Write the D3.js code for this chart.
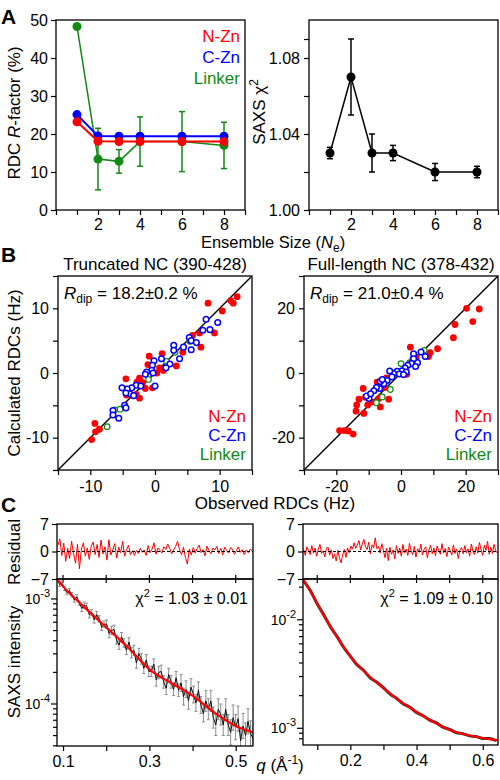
<!DOCTYPE html>
<html><head><meta charset="utf-8">
<script src="https://cdn.jsdelivr.net/npm/d3@7"></script>
<style>
body{margin:0;background:#fff}
svg{display:block;font-family:"Liberation Sans",Arial,Helvetica,sans-serif}
</style></head><body>
<svg id="fig" width="500" height="780"></svg>
<script>
// ---------- Panel A data ----------
const ensembleSize=[1,2,3,4,6,8];
const rdcRNZn=[23.2,18.1,18.0,18.0,18.0,18.0];
const rdcRCZn=[25.1,19.5,19.4,19.4,19.4,19.4];
const rdcRLinker=[48.3,13.4,12.8,18.0,18.0,17.0];
const rdcRLinkerErr=[0,8.1,3.1,6.5,7.9,6.1];
const saxsChi2=[1.030,1.070,1.030,1.030,1.020,1.020];
const saxsChi2Err=[0.003,0.020,0.010,0.004,0.0045,0.003];
const seriesNames=["N-Zn","C-Zn","Linker"];
const ensembleTicks=[0,1,2,3,4,5,6,7,8,9];
const ensembleLabels=[2,4,6,8];
const rTicks=[0,10,20,30,40,50];
const chiTicks=[1.00,1.02,1.04,1.06,1.08,1.09];
const chiLabels=[1.00,1.04,1.08];

// ---------- Panel B data [observed, calculated] ----------
const truncNZn=[[8.2,10.8],[10.4,9.6],[11.7,11.2],[12.1,10.8],[12.7,11.8],[9.2,6.2],[7.1,4.0],[6.9,6.2],[5.8,5.8],[4.3,3.2],[3.3,1.1],[1.1,3.0],[1.3,0.4],[0.3,0.0],[-0.9,2.6],[-1.1,1.3],[-0.4,-2.3],[-1.5,-2.4],[-2.4,-0.8],[-2.8,-1.4],[-4.5,-0.9],[-4.4,-3.4],[-2.4,-3.9],[-2.9,-3.3],[-9.2,-9.1],[-8.6,-8.7],[-9.3,-7.8],[-9.8,-10.3],[-1.9,-1.5],[0.7,0.8]];
const truncCZn=[[7.9,8.3],[9.7,7.8],[7.4,6.6],[8.5,6.7],[5.3,5.5],[5.6,5.0],[6.4,4.7],[5.6,3.6],[2.9,4.3],[2.9,3.5],[4.4,4.0],[3.8,2.2],[2.3,1.4],[1.7,0.8],[1.0,2.2],[-0.15,1.9],[-0.4,1.2],[-0.5,0.4],[-1.3,0.15],[-1.5,-0.2],[-0.3,0.0],[0.0,-2.0],[-2.9,-1.9],[-3.6,-2.3],[-4.3,-2.5],[-5.1,-2.3],[-3.9,-3.2],[-3.3,-3.5],[-4.5,-3.1],[-4.7,-5.0],[-4.5,-5.4],[-6.5,-5.8],[-6.5,-6.5],[-5.6,-7.0],[-2.2,-2.0]];
const truncLinker=[[-6.2,-5.7],[-7.4,-8.3],[-5.4,-5.6],[1.8,1.8],[3.1,3.2],[5.4,4.9],[-1.0,-1.0]];
const fullNZn=[[20.3,20],[24.2,19.8],[22.2,15.9],[16.7,15],[16.2,10.9],[11.3,7.5],[9.0,6.3],[8.5,5.1],[2.9,8.0],[4.7,4.9],[1.8,-0.4],[-4.5,-1.5],[-6.4,-2.8],[-7.4,-2.8],[-11.7,-4.8],[-13.0,-8.1],[-13.7,-9.9],[-13.9,-11.8],[-11.5,-12.5],[-10.3,-9.9],[-11.0,-7.5],[-6.9,-7.9],[-6.4,-10.5],[-3.8,-8.1],[-19.0,-17.8],[-17.5,-17.8],[-16.3,-17.9],[-14.8,-18.9],[-9.0,-9.0],[-5.0,-4.5]];
const fullCZn=[[6.2,6.5],[7.5,5.1],[3.9,5.9],[5.1,3.2],[3.9,4.4],[3.2,2.9],[2.1,2.4],[1.3,1.5],[0.3,0.7],[-1.2,0.5],[-2.3,-0.2],[-3.5,0.6],[-2.8,-1.2],[-4.3,-2.3],[-5.3,-3.3],[-6.4,-2.6],[-6.6,-4.8],[-7.6,-4.5],[-8.4,-5.5],[-9.9,-7.9],[-10.7,-7.1],[-9.4,-6.4],[1.6,0.3],[-0.5,-0.3],[-5.8,-2.0],[4.5,2.0],[0.8,-0.5]];
const fullLinker=[[0,2.9],[2.7,3.2],[7.2,7.0],[-3.3,-5.1],[-5.8,-7.4],[-7.6,-9.2],[3.6,4.2]];
const truncTicks=[-15,-10,-5,0,5,10,15], truncLabels=[-10,0,10];
const fullTicks=[-30,-20,-10,0,10,20,30], fullLabels=[-20,0,20];

// ---------- Panel C data ----------
const residLeft=[1.5,3.2,-1.0,2.1,-2.5,0.8,-1.8,2.6,-0.5,-3.0,1.9,-4.4,0.6,2.2,-1.2,0.9,-2.0,1.4,2.4,-0.8,
 1.8,-1.5,2.9,-0.6,1.2,-2.2,3.0,-0.9,0.4,2.0,-1.7,1.1,-0.3,2.6,-1.2,0.5,1.6,-0.8,0.2,-1.0,
 0.3,-0.5,0.8,-0.2,0.4,-1.0,1.5,-0.3,0.6,2.2,-0.7,0.9,0.3,-0.4,1.2,0.5,1.9,0.8,-0.6,0.4,
 1.3,2.6,0.5,-0.8,1.1,-1.5,-3.2,0.6,-0.9,1.0,-0.4,0.8,1.6,-0.3,0.5,-1.1,1.4,0.2,-0.6,0.9,
 0.4,1.3,-0.5,0.8,-0.9,1.1,0.2,-0.4,1.0,0.6,-0.7,0.3,1.2,-0.2,0.5,-0.8,0.4,-0.3,0.6,0.1];
const residLeftQRange=[0.088,0.538];
const residRight=[0.5,-1.0,1.2,0.3,-0.8,1.5,-0.4,0.9,-1.2,0.6,1.8,-0.5,0.2,-1.4,0.8,1.1,-0.9,0.4,-1.8,-0.6,
 -2.4,0.3,-1.6,-2.9,-0.8,0.5,-1.5,0.9,-0.3,1.4,0.6,2.2,0.8,1.6,2.8,0.4,1.9,3.1,1.2,0.5,
 2.4,-0.6,1.7,0.9,3.5,0.7,1.3,-0.4,2.0,0.3,-1.6,0.8,-2.3,1.1,-0.7,0.4,-1.9,1.5,-0.5,0.9,
 -1.2,1.8,-0.3,0.6,-1.0,2.1,0.2,-0.8,1.3,-1.4,0.7,-0.2,1.9,-0.9,0.5,1.2,-1.6,0.4,1.6,-0.6,
 0.9,-1.1,1.4,0.3,-0.7,2.0,-0.4,0.8,-1.3,1.1,0.2,-0.9,1.7,-0.5,0.6,-1.8,0.4,1.0,-0.6,1.5,
 -0.3,0.7,-1.2,1.9,0.1,-0.8,1.2,-0.4,2.3,0.5,-1.0,1.6,0.3,2.6,-0.7,1.1,-0.5,1.8,0.2,-0.4];
const residRightQRange=[0.059,0.644];
// left SAXS curve (log10 intensity)
const dataLeftQRange=[0.086,0.540];
const dataLeftLog=[-2.80,-2.86,-2.85,-2.90,-2.94,-2.92,-2.96,-3.01,-2.98,-3.04,-3.09,-3.06,-3.07,-3.15,-3.13,-3.20,-3.15,-3.19,-3.27,-3.24,
 -3.24,-3.33,-3.30,-3.29,-3.39,-3.44,-3.36,-3.42,-3.49,-3.41,-3.51,-3.49,-3.61,-3.52,-3.57,-3.66,-3.58,-3.69,-3.69,-3.62,
 -3.77,-3.70,-3.69,-3.79,-3.85,-3.72,-3.79,-3.86,-3.75,-3.87,
 -3.80,-3.93,-3.86,-3.97,-3.84,-3.91,-3.99,-3.87,-4.01,-4.09,-3.97,-4.05,-3.97,-4.13,-4.20,-4.05,-4.10,-4.20,-4.05,-4.20,
 -4.27,-4.13,-4.22,-4.14,-4.35,-4.21,-4.30,-4.165,-4.28,-4.33];
const errLeftLog=[0.02,0.03,0.04,0.05,0.06,0.08,0.10,0.12];
const fitLeftQ=[0.086,0.10,0.15,0.20,0.25,0.30,0.35,0.40,0.45,0.50,0.54];
const fitLeftLog=[-2.81,-2.88,-3.08,-3.27,-3.46,-3.67,-3.80,-3.92,-4.08,-4.21,-4.27];
// right SAXS curve
const dataRightQ=[0.06,0.08,0.10,0.12,0.14,0.16,0.18,0.20,0.22,0.24,0.26,0.28,0.30,0.32,0.34,0.36,0.38,0.40,0.42,0.44,0.46,0.48,0.50,0.52,0.54,0.56,0.58,0.60,0.62,0.64];
const dataRightLog=[-1.645,-1.735,-1.855,-1.955,-2.065,-2.155,-2.255,-2.335,-2.415,-2.465,-2.535,-2.575,-2.625,-2.685,-2.725,-2.775,-2.805,-2.855,-2.885,-2.925,-2.95,-2.99,-3.01,-3.04,-3.05,-3.07,-3.075,-3.095,-3.095,-3.115];
const errRightLog=0.012;
const fitRightQ=[0.057,0.08,0.10,0.125,0.15,0.175,0.20,0.25,0.30,0.35,0.40,0.45,0.50,0.55,0.60,0.646];
const fitRightLog=[-1.624,-1.74,-1.85,-1.99,-2.11,-2.23,-2.34,-2.50,-2.63,-2.75,-2.85,-2.94,-3.015,-3.06,-3.09,-3.11];
const qTicksLeft=[0.1,0.2,0.3,0.4,0.5], qLabelsLeft=[0.1,0.3,0.5];
const qTicksRight=[0.1,0.2,0.3,0.4,0.5,0.6], qLabelsRight=[0.2,0.4,0.6];
const residTicks=[-7,0,7];

// ---------- drawing ----------
const svg=d3.select("#fig");
const FT=16, FL=17;
const RED="#ff0000", BLUE="#0000ff", GREEN="#138a13", GREY="#8c8c8c";
const defs=svg.append("defs");
let clipId=0;
function clip(x,y){const id="c"+(clipId++);defs.append("clipPath").attr("id",id).append("rect")
 .attr("x",x.range()[0]).attr("y",y.range()[1]).attr("width",x.range()[1]-x.range()[0]).attr("height",y.range()[0]-y.range()[1]);return "url(#"+id+")";}
function box(x,y){svg.append("rect").attr("x",x.range()[0]).attr("y",y.range()[1])
 .attr("width",x.range()[1]-x.range()[0]).attr("height",y.range()[0]-y.range()[1])
 .attr("fill","none").attr("stroke","#000").attr("stroke-width",1.3);}
function fix(g){g.attr("font-family",null).attr("font-size",FT);g.select(".domain").remove();
 g.selectAll(".tick line").attr("stroke","#000").attr("stroke-width",1.2);g.selectAll(".tick text").attr("fill","#000");return g;}
function txt(x,y,size,anchor){return svg.append("text").attr("x",x).attr("y",y).attr("font-size",size).attr("text-anchor",anchor||"start").attr("fill","#000");}
function vtxt(x,y,size){return svg.append("text").attr("transform",`translate(${x},${y}) rotate(-90)`).attr("font-size",size).attr("text-anchor","middle").attr("fill","#000");}
function errbars(g,data,x,y,col,w,cap){
 data.forEach(d=>{if(!d.e)return;const X=x(d.x),y1=y(d.y-d.e),y2=y(d.y+d.e);
  g.append("line").attr("x1",X).attr("x2",X).attr("y1",y1).attr("y2",y2).attr("stroke",col).attr("stroke-width",w);
  [y1,y2].forEach(Y=>g.append("line").attr("x1",X-cap).attr("x2",X+cap).attr("y1",Y).attr("y2",Y).attr("stroke",col).attr("stroke-width",w));});}

// panel letters
txt(1,24,21).attr("font-weight","bold").text("A");
txt(1,262,21).attr("font-weight","bold").text("B");
txt(1,512,21).attr("font-weight","bold").text("C");

// ===== A left =====
const xA1=d3.scaleLinear().domain([0,9]).range([56,245]);
const yA1=d3.scaleLinear().domain([0,50]).range([210,20]);
fix(svg.append("g").attr("transform","translate(0,210)").call(d3.axisBottom(xA1).tickValues(ensembleTicks).tickSize(5).tickPadding(4).tickFormat(d=>ensembleLabels.includes(d)?d:"")));
fix(svg.append("g").attr("transform","translate(56,0)").call(d3.axisLeft(yA1).tickValues(rTicks).tickSize(5).tickPadding(3)));
box(xA1,yA1);
const gA1=svg.append("g");
const series=[{v:rdcRLinker,e:rdcRLinkerErr,c:GREEN,w:1.5},{v:rdcRCZn,c:BLUE,w:2},{v:rdcRNZn,c:RED,w:2}];
series.forEach(s=>{
 const pts=ensembleSize.map((n,i)=>({x:n,y:s.v[i],e:s.e?s.e[i]:0}));
 if(s.e)errbars(gA1,pts,xA1,yA1,s.c,1.5,3);
 gA1.append("path").datum(pts).attr("fill","none").attr("stroke",s.c).attr("stroke-width",s.w)
  .attr("d",d3.line().x(d=>xA1(d.x)).y(d=>yA1(d.y)));
 gA1.selectAll(null).data(pts).enter().append("circle").attr("cx",d=>xA1(d.x)).attr("cy",d=>yA1(d.y)).attr("r",4.5).attr("fill",s.c);
});
[[seriesNames[0],RED,42],[seriesNames[1],BLUE,63],[seriesNames[2],GREEN,84]].forEach(l=>txt(240,l[2],FL,"end").attr("fill",l[1]).text(l[0]));
{const t=vtxt(20,113,FL);t.append("tspan").text("RDC ");t.append("tspan").attr("font-style","italic").text("R");t.append("tspan").text("-factor (%)");}

// ===== A right =====
const xA2=d3.scaleLinear().domain([0,9]).range([309,498]);
const yA2=d3.scaleLinear().domain([1.00,1.10]).range([210,20]);
fix(svg.append("g").attr("transform","translate(0,210)").call(d3.axisBottom(xA2).tickValues(ensembleTicks).tickSize(5).tickPadding(4).tickFormat(d=>ensembleLabels.includes(d)?d:"")));
fix(svg.append("g").attr("transform","translate(309,0)").call(d3.axisLeft(yA2).tickValues(chiTicks).tickSize(5).tickPadding(4).tickFormat(d=>chiLabels.some(c=>Math.abs(c-d)<1e-9)?d3.format(".2f")(d):"")));
box(xA2,yA2);
const gA2=svg.append("g");
const chiPts=ensembleSize.map((n,i)=>({x:n,y:saxsChi2[i],e:saxsChi2Err[i]}));
errbars(gA2,chiPts,xA2,yA2,"#000",1.5,3);
gA2.append("path").datum(chiPts).attr("fill","none").attr("stroke","#000").attr("stroke-width",1.5).attr("d",d3.line().x(d=>xA2(d.x)).y(d=>yA2(d.y)));
gA2.selectAll(null).data(chiPts).enter().append("circle").attr("cx",d=>xA2(d.x)).attr("cy",d=>yA2(d.y)).attr("r",4.5).attr("fill","#000");
{const t=vtxt(265,112,FL);t.append("tspan").text("SAXS χ");t.append("tspan").attr("font-size",12).attr("dy",-7).text("2");}
{const t=txt(273,248,16.5,"middle");t.append("tspan").text("Ensemble Size (");t.append("tspan").attr("font-style","italic").text("N");
 t.append("tspan").attr("font-size",12).attr("dy",4).text("e");t.append("tspan").attr("dy",-4).text(")");}

// ===== B =====
function rdcPanel(x0,x1,dom,ticks,labels,nz,cz,lk,title,rtext){
 const x=d3.scaleLinear().domain(dom).range([x0,x1]);
 const y=d3.scaleLinear().domain(dom).range([470,276]);
 fix(svg.append("g").attr("transform","translate(0,470)").call(d3.axisBottom(x).tickValues(ticks).tickSize(5).tickPadding(6).tickFormat(d=>labels.includes(d)?d:"")));
 fix(svg.append("g").attr("transform",`translate(${x0},0)`).call(d3.axisLeft(y).tickValues(ticks).tickSize(5).tickPadding(4).tickFormat(d=>labels.includes(d)?d:"")));
 const g=svg.append("g").attr("clip-path",clip(x,y));
 g.append("line").attr("x1",x(dom[0])).attr("y1",y(dom[0])).attr("x2",x(dom[1])).attr("y2",y(dom[1])).attr("stroke","#000").attr("stroke-width",1.4);
 g.selectAll(null).data(nz).enter().append("circle").attr("cx",d=>x(d[0])).attr("cy",d=>y(d[1])).attr("r",3.4).attr("fill",RED);
 g.selectAll(null).data(lk).enter().append("circle").attr("cx",d=>x(d[0])).attr("cy",d=>y(d[1])).attr("r",2.8).attr("fill","#fff").attr("stroke",GREEN).attr("stroke-width",1.2);
 g.selectAll(null).data(cz).enter().append("circle").attr("cx",d=>x(d[0])).attr("cy",d=>y(d[1])).attr("r",2.8).attr("fill","#fff").attr("stroke",BLUE).attr("stroke-width",1.5);
 box(x,y);
 txt((x0+x1)/2,270,FL,"middle").text(title);
 const t=txt(x0+6,299,FL);t.append("tspan").attr("font-style","italic").text("R");
 t.append("tspan").attr("font-size",12).attr("dy",4).text("dip");t.append("tspan").attr("dy",-4).text(" = "+rtext);
 [[seriesNames[0],RED,422],[seriesNames[1],BLUE,441],[seriesNames[2],GREEN,460]].forEach(l=>txt(x1-6,l[2],FL,"end").attr("fill",l[1]).text(l[0]));
}
rdcPanel(58,252,[-15,15],truncTicks,truncLabels,truncNZn,truncCZn,truncLinker,"Truncated NC (390-428)","18.2±0.2 %");
rdcPanel(304,498,[-30,30],fullTicks,fullLabels,fullNZn,fullCZn,fullLinker,"Full-length NC (378-432)","21.0±0.4 %");
vtxt(20,373,FL).text("Calculated RDCs (Hz)");
txt(275,509,FL,"middle").text("Observed RDCs (Hz)");

// ===== C =====
function saxsPanel(x0,x1,qDom,yLogDom,yBottom,qTicks,qLabels,resid,residQ,drawData,fitQ,fitLog,chiText){
 const x=d3.scaleLinear().domain(qDom).range([x0,x1]);
 const yr=d3.scaleLinear().domain([-7,7]).range([579,524]);
 const yi=d3.scaleLog().domain(yLogDom.map(v=>Math.pow(10,v))).range([yBottom,579]);
 fix(svg.append("g").attr("transform",`translate(${x0},0)`).call(d3.axisLeft(yr).tickValues(residTicks).tickSize(5).tickPadding(3)));
 const rq=d3.scaleLinear().domain([0,resid.length-1]).range(residQ);
 const gr=svg.append("g").attr("clip-path",clip(x,yr));
 gr.append("path").datum(resid).attr("fill","none").attr("stroke",RED).attr("stroke-width",1)
  .attr("d",d3.line().x((d,i)=>x(rq(i))).y(d=>yr(d)));
 gr.append("line").attr("x1",x0).attr("x2",x1).attr("y1",yr(0)).attr("y2",yr(0)).attr("stroke","#000").attr("stroke-width",1).attr("stroke-dasharray","3,2");
 box(x,yr);
 qTicks.forEach(q=>svg.append("line").attr("x1",x(q)).attr("x2",x(q)).attr("y1",575).attr("y2",583).attr("stroke","#000").attr("stroke-width",1.2));
 const gi=svg.append("g").attr("clip-path",clip(x,yi));
 drawData(gi,x,yi);
 gi.append("path").datum(fitQ.map((q,i)=>[q,Math.pow(10,fitLog[i])])).attr("fill","none").attr("stroke",RED).attr("stroke-width",2.2)
  .attr("d",d3.line().curve(d3.curveMonotoneX).x(d=>x(d[0])).y(d=>yi(d[1])));
 box(x,yi);
 fix(svg.append("g").attr("transform",`translate(0,${yBottom})`).call(d3.axisBottom(x).tickValues(qTicks).tickSize(5).tickPadding(5).tickFormat(d=>qLabels.some(l=>Math.abs(l-d)<1e-9)?d3.format(".1f")(d):"")));
 const lt=yi.ticks().filter(v=>v>=yi.domain()[0]&&v<=yi.domain()[1]);
 lt.forEach(v=>{const e=Math.log10(v),major=Math.abs(e-Math.round(e))<1e-6;
  svg.append("line").attr("x1",x0-(major?6:4)).attr("x2",x0).attr("y1",yi(v)).attr("y2",yi(v)).attr("stroke","#000").attr("stroke-width",1.2);
  if(major){const t=txt(x0-7,yi(v)+5,14,"end");t.append("tspan").text("10");t.append("tspan").attr("font-size",11).attr("dy",-7).text(String(Math.round(e)));}
 });
 const t=txt(x1-5,604,FT,"end");t.append("tspan").text("χ");t.append("tspan").attr("font-size",11).attr("dy",-7).text("2");t.append("tspan").attr("dy",7).text(chiText);
}
saxsPanel(57,253,[0.086,0.54],[-4.4,-2.81],746,qTicksLeft,qLabelsLeft,residLeft,residLeftQRange,(g,x,y)=>{
 const dq=d3.scaleLinear().domain([0,dataLeftLog.length-1]).range(dataLeftQRange);
 const pts=dataLeftLog.map((v,i)=>({q:dq(i),v:v,e:errLeftLog[Math.min(errLeftLog.length-1,Math.floor(i/10))]}));
 pts.forEach(p=>{const X=x(p.q),a=y(Math.pow(10,p.v-p.e)),b=y(Math.pow(10,p.v+p.e));
  g.append("line").attr("x1",X).attr("x2",X).attr("y1",a).attr("y2",b).attr("stroke",GREY).attr("stroke-width",1);
  [a,b].forEach(Y=>g.append("line").attr("x1",X-1.5).attr("x2",X+1.5).attr("y1",Y).attr("y2",Y).attr("stroke",GREY).attr("stroke-width",1));});
 g.append("path").datum(pts).attr("fill","none").attr("stroke","#111").attr("stroke-width",1).attr("d",d3.line().x(d=>x(d.q)).y(d=>y(Math.pow(10,d.v))));
},fitLeftQ,fitLeftLog," = 1.03 ± 0.01");
saxsPanel(303,498,[0.057,0.646],[-3.154,-1.624],745,qTicksRight,qLabelsRight,residRight,residRightQRange,(g,x,y)=>{
 const pts=dataRightQ.map((q,i)=>({q:q,v:dataRightLog[i]}));
 pts.forEach(p=>{const X=x(p.q);g.append("line").attr("x1",X).attr("x2",X).attr("y1",y(Math.pow(10,p.v-errRightLog))).attr("y2",y(Math.pow(10,p.v+errRightLog))).attr("stroke",GREY).attr("stroke-width",1.2);});
 g.append("path").datum(pts).attr("fill","none").attr("stroke","#333").attr("stroke-width",3).attr("d",d3.line().curve(d3.curveMonotoneX).x(d=>x(d.q)).y(d=>y(Math.pow(10,d.v))));
},fitRightQ,fitRightLog," = 1.09 ± 0.10");
vtxt(20,552,FL).text("Residual");
vtxt(20,662,FL).text("SAXS intensity");
{const t=txt(280,771,FL,"middle");t.append("tspan").attr("font-style","italic").text("q");t.append("tspan").text(" (Å");
 t.append("tspan").attr("font-size",12).attr("dy",-7).text("-1");t.append("tspan").attr("dy",7).text(")");}
</script></body></html>
